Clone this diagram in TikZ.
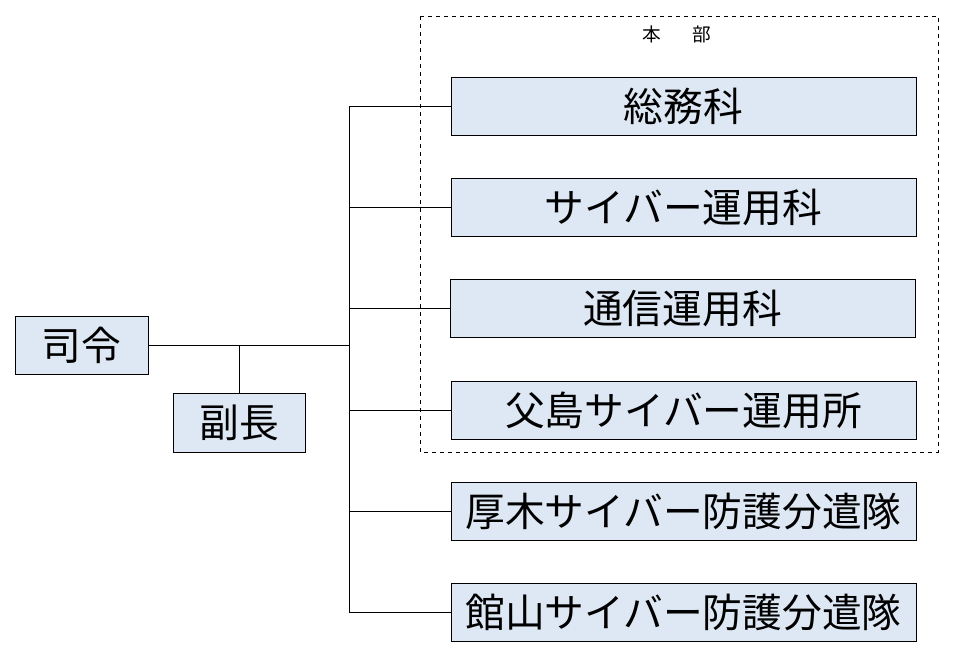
\documentclass[tikz,border=0pt]{standalone}
\usepackage{fontspec}
\newfontfamily\jp{Noto Sans CJK JP}
\definecolor{boxfill}{RGB}{222,232,244}
\begin{document}
\begin{tikzpicture}[x=0.75pt,y=-0.75pt,
  orgbox/.style={draw=black,line width=0.75pt,fill=boxfill,inner sep=0pt,font=\jp\fontsize{29.8}{31}\selectfont},
  conn/.style={draw=black,line width=0.6pt}]
\useasboundingbox (0,0) rectangle (958,654);
\draw[dashed,line width=0.6pt] (420,16) rectangle (938,452);
\node[font=\jp\fontsize{14}{16}\selectfont] (honbu) at (677,34) {本\hspace{24pt}部};
\node[orgbox,minimum width=133*0.75pt,minimum height=58*0.75pt] (shirei) at (81.5,345) {司令};
\node[orgbox,minimum width=132*0.75pt,minimum height=59*0.75pt] (fuku) at (239,422.5) {副長};
\node[orgbox,minimum width=465*0.75pt,minimum height=58*0.75pt] (b1) at (683.5,106) {総務科};
\node[orgbox,minimum width=465*0.75pt,minimum height=58*0.75pt] (b2) at (683.5,207.5) {サイバー運用科};
\node[orgbox,minimum width=465*0.75pt,minimum height=58*0.75pt] (b3) at (682.5,308.5) {通信運用科};
\node[orgbox,minimum width=465*0.75pt,minimum height=58*0.75pt] (b4) at (683.5,410.5) {父島サイバー運用所};
\node[orgbox,minimum width=465*0.75pt,minimum height=58*0.75pt] (b5) at (683.5,511) {厚木サイバー防護分遣隊};
\node[orgbox,minimum width=465*0.75pt,minimum height=58*0.75pt] (b6) at (683.5,612.5) {館山サイバー防護分遣隊};
\coordinate (top) at (349,106);
\coordinate (bot) at (349,612.5);
\coordinate (mid) at (349,345);
\coordinate (fj) at (239,345);
\draw[conn] (top) -- (bot);
\draw[conn] (shirei.east) -- (mid);
\draw[conn] (fj) -- (fuku.north);
\foreach \b in {b1,b2,b3,b4,b5,b6}{\draw[conn] (\b.west) -- (\b.west -| top);}
\end{tikzpicture}
\end{document}
